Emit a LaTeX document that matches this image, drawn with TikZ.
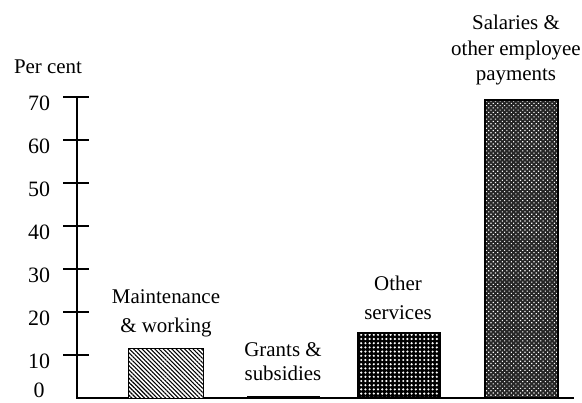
\documentclass[tikz,border=0pt]{standalone}
\usepackage{fontspec}
\setmainfont{Liberation Serif}
\usetikzlibrary{patterns.meta}
\tikzset{
    barlabel/.style={align=center, font=\fontsize{21}{29}\selectfont, inner sep=0pt},
    ticklabel/.style={font=\fontsize{22}{25}\selectfont, inner sep=0pt},
}
\begin{document}
\begin{tikzpicture}[x=1bp, y=-1bp, line width=1.6bp]
    \useasboundingbox (0,0) rectangle (582,402);
    % axes
    \draw (77,98) -- (77,398) -- (574,398);
    \foreach \v in {10,20,...,70} {
        \draw (63,{398-4.3*\v}) -- (89,{398-4.3*\v});
        \node[ticklabel] (t\v) at (39,{404-4.3*\v}) {\v};
    }
    \node[ticklabel] (t0) at (39,390) {0};
    \node[ticklabel, font=\fontsize{21}{25}\selectfont] (unit) at (48,67) {Per cent};
    % bars
    \path[preaction={fill=white}, pattern={Lines[angle=-45,distance=3bp,line width=1.1bp]}]
        (128,398) rectangle (203,348);
    \draw[line width=1bp] (128,398) rectangle (203,348);
    \fill (247,398) rectangle (320,395.5);
    \path[preaction={fill=black}, pattern={Dots[distance=4.2bp,radius=1.2bp]}, pattern color=white]
        (358,398) rectangle (440,333);
    \draw[line width=1.2bp] (358,398) rectangle (440,333);
    \path[preaction={fill=black!85}, pattern={Dots[angle=45,distance=3.2bp,radius=0.8bp]}, pattern color=white]
        (485,398) rectangle (558,100);
    \draw[line width=1.2bp] (485,398) rectangle (558,100);
    % labels
    \node[barlabel] (maint) at (166,313) {Maintenance\\\& working};
    \node[barlabel, font=\fontsize{21}{24}\selectfont] (grants) at (283,362) {Grants \&\\subsidies};
    \node[barlabel] (other) at (398,298) {Other\\services};
    \node[barlabel, font=\fontsize{21}{26}\selectfont] (sal) at (516,50) {Salaries \&\\other employee\\payments};
\end{tikzpicture}
\end{document}
